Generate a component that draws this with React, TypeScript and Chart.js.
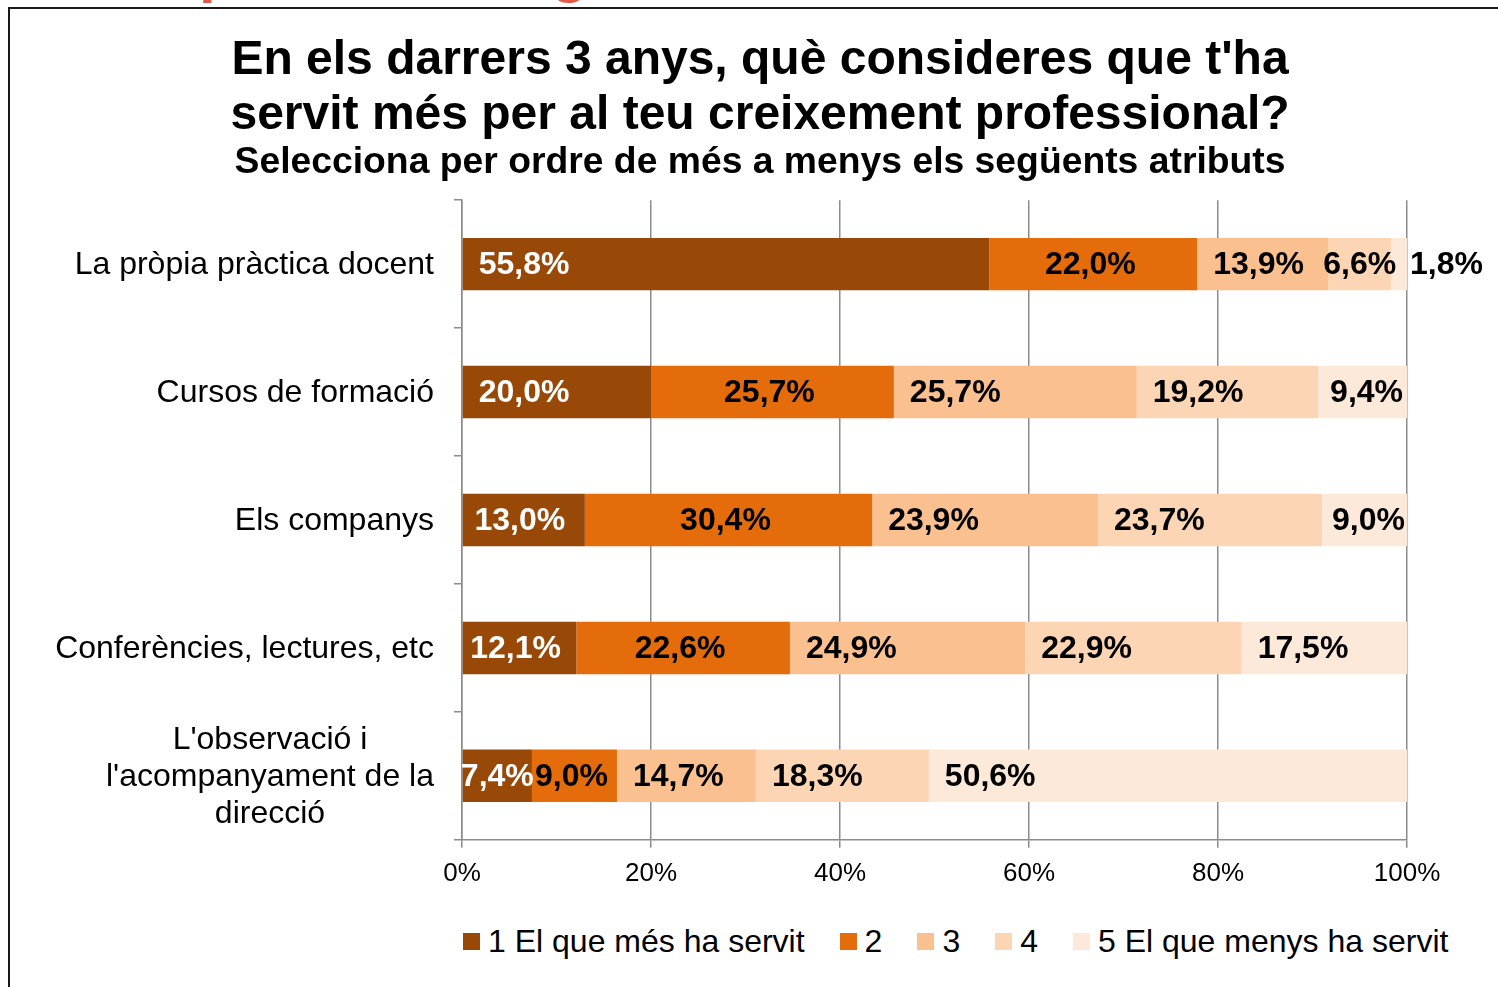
import React, { useEffect, useRef } from 'react';
import { Chart, registerables } from 'chart.js';

Chart.register(...registerables);

const FONT = "'Liberation Sans', Arial, Helvetica, sans-serif";

const titleLines = ["En els darrers 3 anys, què consideres que t'ha", 'servit més per al teu creixement professional?'];
const subtitleText = 'Selecciona per ordre de més a menys els següents atributs';

const categories = [
  ['La pròpia pràctica docent'],
  ['Cursos de formació'],
  ['Els companys'],
  ['Conferències, lectures, etc'],
  ["L'observació i", "l'acompanyament de la", 'direcció'],
];

const seriesNames = ['1 El que més ha servit', '2', '3', '4', '5 El que menys ha servit'];
const rank1 = [55.8, 20.0, 13.0, 12.1, 7.4];
const rank2 = [22.0, 25.7, 30.4, 22.6, 9.0];
const rank3 = [13.9, 25.7, 23.9, 24.9, 14.7];
const rank4 = [6.6, 19.2, 23.7, 22.9, 18.3];
const rank5 = [1.8, 9.4, 9.0, 17.5, 50.6];
const seriesValues = [rank1, rank2, rank3, rank4, rank5];

const xTickValues = [0, 20, 40, 60, 80, 100];
const xTickLabels = ['0%', '20%', '40%', '60%', '80%', '100%'];

const seriesColors = ['#984807', '#E46C0A', '#FAC090', '#FCD5B5', '#FDE9D9'];
const centeredLabelNudge = [-4, -3, 0, 0, 4];

const fmt = (v: number) => v.toFixed(1).replace('.', ',') + '%';

const categoryLabelPlugin = {
  id: 'categoryLabels',
  afterDraw(chart: any) {
    const ctx = chart.ctx;
    const yScale = chart.scales.y;
    const right = chart.chartArea.left - 28;
    ctx.save();
    ctx.font = `32px ${FONT}`;
    ctx.fillStyle = '#000';
    ctx.textBaseline = 'middle';
    ctx.textAlign = 'center';
    const lh = 37;
    categories.forEach((lines, i) => {
      const cy = yScale.getPixelForValue(i);
      const maxW = Math.max(...lines.map((l) => ctx.measureText(l).width));
      const cx = right - maxW / 2;
      const startY = cy - ((lines.length - 1) * lh) / 2;
      lines.forEach((l, j) => ctx.fillText(l, cx, startY + j * lh + 1));
    });
    ctx.restore();
  },
};

const valueLabelPlugin = {
  id: 'valueLabels',
  afterDatasetsDraw(chart: any) {
    const ctx = chart.ctx;
    ctx.save();
    ctx.font = `bold 32px ${FONT}`;
    ctx.textBaseline = 'middle';
    chart.data.datasets.forEach((ds: any, di: number) => {
      const meta = chart.getDatasetMeta(di);
      meta.data.forEach((bar: any, i: number) => {
        const { x, base, y } = bar.getProps(['x', 'base', 'y'], true);
        const left = Math.min(x, base);
        const right = Math.max(x, base);
        const w = right - left;
        const text = fmt(ds.data[i]);
        const tw = ctx.measureText(text).width;
        let tx: number;
        let align: CanvasTextAlign;
        let color = di === 0 ? '#fff' : '#000';
        if (w < 30) {
          tx = right + 2;
          align = 'left';
          color = '#000';
        } else if (di !== 1 && tw + 40 <= w) {
          tx = left + 16;
          align = 'left';
        } else {
          tx = (left + right) / 2 + (w < 80 ? 0 : centeredLabelNudge[di]);
          align = 'center';
        }
        ctx.textAlign = align;
        ctx.fillStyle = color;
        ctx.fillText(text, tx, y + 1);
      });
    });
    ctx.restore();
  },
};

export default function App() {
  const ref = useRef<HTMLCanvasElement>(null);

  useEffect(() => {
    const chart = new Chart(ref.current as HTMLCanvasElement, {
      type: 'bar',
      data: {
        labels: categories.map((c) => c.join(' ')),
        datasets: seriesNames.map((name, i) => ({
          label: name,
          data: seriesValues[i],
          backgroundColor: seriesColors[i],
          borderWidth: 0,
          barPercentage: 0.41,
          categoryPercentage: 1,
        })),
      },
      options: {
        indexAxis: 'y',
        responsive: false,
        animation: false,
        layout: { padding: { left: 113, right: 91, top: 0, bottom: 1 } },
        plugins: {
          legend: { display: false },
          tooltip: { enabled: false },
          title: {
            display: true,
            text: titleLines,
            color: '#000',
            font: { family: FONT, size: 48, weight: 'bold', lineHeight: 1.146 },
            padding: { top: 33, bottom: 0 },
          },
          subtitle: {
            display: true,
            text: subtitleText,
            color: '#000',
            font: { family: FONT, size: 37.3, weight: 'bold', lineHeight: 1.05 },
            padding: { top: 0, bottom: 18 },
          },
        },
        scales: {
          x: {
            stacked: true,
            min: 0,
            max: 100,
            afterBuildTicks: (s: any) => {
              s.ticks = xTickValues.map((v) => ({ value: v }));
            },
            ticks: {
              callback: (_v: any, i: number) => xTickLabels[i],
              color: '#000',
              font: { family: FONT, size: 26 },
              padding: 10,
            },
            grid: { color: '#8c8c8c', lineWidth: 1.5, tickLength: 8 },
            border: { color: '#8c8c8c', width: 1.5 },
          },
          y: {
            stacked: true,
            ticks: { display: false },
            grid: { drawOnChartArea: false, offset: true, tickLength: 8, color: '#8c8c8c', lineWidth: 1.5 },
            border: { color: '#8c8c8c', width: 1.5 },
            afterFit: (s: any) => {
              s.width = 349;
            },
          },
        },
      },
      plugins: [categoryLabelPlugin, valueLabelPlugin],
    } as any);
    return () => chart.destroy();
  }, []);

  return (
    <div style={{ position: 'fixed', inset: 0, overflow: 'hidden', background: '#fff', fontFamily: FONT }}>
      <div style={{ position: 'absolute', left: 199, top: -59, color: '#E05A45', fontWeight: 'bold', fontSize: 60, lineHeight: '60px' }}>p</div>
      <div style={{ position: 'absolute', left: 551, top: -59, color: '#E05A45', fontWeight: 'bold', fontSize: 60, lineHeight: '60px' }}>g</div>
      <div
        style={{
          position: 'absolute',
          left: 8,
          top: 7,
          width: 3000,
          height: 3000,
          borderLeft: '2px solid #1a1a1a',
          borderTop: '2px solid #1a1a1a',
        }}
      />
      <canvas ref={ref} width={1498} height={900} style={{ position: 'absolute', left: 0, top: 0, width: 1498, height: 900 }} />
      <div
        style={{
          position: 'absolute',
          left: 463,
          top: 924,
          height: 35,
          display: 'flex',
          alignItems: 'center',
          fontSize: 32,
          color: '#000',
          whiteSpace: 'nowrap',
        }}
      >
        {seriesNames.map((name, i) => (
          <div key={name} style={{ display: 'flex', alignItems: 'center', marginRight: 35 }}>
            <span style={{ display: 'inline-block', width: 17, height: 17, background: seriesColors[i], marginRight: 8 }} />
            <span style={{ lineHeight: '35px' }}>{name}</span>
          </div>
        ))}
      </div>
    </div>
  );
}
